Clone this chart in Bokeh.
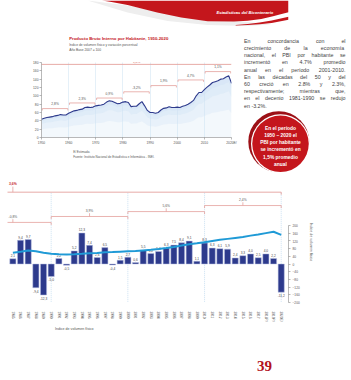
import math
from bokeh.plotting import figure
from bokeh.models import (ColumnDataSource, LinearAxis, Range1d, FixedTicker,
                          Legend, LegendItem)
from bokeh.layouts import column, row
from bokeh.embed import file_html
from bokeh.resources import INLINE
from bokeh.core.properties import value

# ------------------------------------------------------------------ data
top_years = list(range(1950, 2021))
top_index = [44, 46, 48, 49, 50, 52, 53, 55, 54, 54,
             58, 61, 64, 65, 67, 68, 72, 73, 72, 73,
             76, 77, 78, 80, 85, 88, 87, 84, 81, 82,
             85, 86, 84, 74, 75, 75, 81, 86, 76, 65,
             60, 60, 58, 60, 66, 70, 71, 74, 72, 72,
             73, 72, 75, 77, 80, 84, 89, 100, 108, 108,
             115, 121, 126, 132, 134, 136, 140, 141, 145, 148,
             130]
top_ticks = [1950, 1960, 1970, 1980, 1990, 2000, 2010, 2020]
top_tick_labels = ["1950", "1960", "1970", "1980", "1990", "2000", "2010", "2020E/"]
top_yticks = [0, 20, 40, 60, 80, 100, 120, 140, 160, 180]
top_period_start = [1950, 1960, 1970, 1980, 1990, 2000, 2010]
top_period_end = [1960, 1970, 1980, 1990, 2000, 2010, 2020]
top_period_rate = ["2,8%", "2,3%", "0,9%", "-3,2%", "1,9%", "4,7%", "1,1%"]
top_total_rate = "1,5%"

bot_years = list(range(1985, 2021))
bot_year_labels = [str(y) for y in range(1985, 2018)] + ["2018P/", "2019P/", "2020E/"]
bot_growth = [2.1, 9.4, 9.7, -9.4, -12.3, -5.0, 2.2, -0.5, 5.2, 12.3,
              7.4, 2.6, 6.5, -0.4, 1.5, 2.7, 0.6, 5.5, 4.2, 5.0,
              6.3, 7.5, 8.4, 9.1, 1.1, 8.3, 6.3, 6.1, 5.9, 2.4,
              3.3, 4.0, 2.5, 4.0, 2.2, -11.2]
bot_index = [59, 64, 70, 66, 59, 54, 51, 50, 51, 53,
             56, 58, 61, 62, 64, 66, 68, 71, 74, 78,
             83, 89, 96, 103, 108, 114, 120, 126, 131, 136,
             141, 148, 154, 161, 168, 152]
bot_period_start = [1980, 1990, 2000, 2010]
bot_period_end = [1990, 2000, 2010, 2020]
bot_period_rate = ["-0,8%", "3,9%", "5,6%", "2,4%"]
bot_total_rate = "3,6%"
idx_ticks = [-200, -160, -120, -80, -40, 0, 40, 80, 120, 160, 200]

# ------------------------------------------------------------------ style
SANS = "Liberation Sans"
RED = "#c4161c"
DARKRED = "#9c1016"
NAVY = "#2d3a8c"
CYAN = "#1f9ad6"
GRAY = "#555555"
LGRAY = "#8a8a8a"
BRACKET = "#e4a19d"
GRID = "#a9cde9"

COMMON = dict(output_backend="svg", toolbar_location=None, title=None)


def blank(fig):
    fig.outline_line_color = None
    fig.grid.visible = False
    fig.background_fill_color = "white"
    fig.border_fill_color = "white"


def pixel_fig(w, h, x0, y0):
    f = figure(width=w, height=h, x_range=Range1d(x0, x0 + w), y_range=Range1d(y0 + h, y0),
               x_axis_location=None, y_axis_location=None, min_border=0, **COMMON)
    blank(f)
    return f


# ------------------------------------------------------------------ header
ph = pixel_fig(351, 28, 0, 0)
ph.patch([100, 160, 220, 280, 330, 300, 250, 200, 150, 100],
         [0, 6, 14, 20, 24, 25.5, 24.5, 20.5, 12, 0],
         fill_color="#eeeeee", line_color=None)
ph.patch([118, 351, 351, 340, 333, 317, 300, 283, 250, 217, 187, 150, 130, 118],
         [0, 0, 11.7, 14, 15.5, 18.5, 20.3, 21, 20.7, 17, 12, 4.5, 1.5, 0],
         fill_color=RED, line_color=None)
ph.patch([285, 300, 315, 330, 351, 351, 330, 315, 300, 285],
         [24.6, 23.6, 22.1, 20.1, 16.3, 19.3, 22.4, 23.7, 24.5, 24.9],
         fill_color=RED, line_color=None)
ph.text(x=[261], y=[11.5], text=["Estadísticas del Bicentenario"],
        text_font=value(SANS), text_font_size="4.1px", text_font_style="bold italic",
        text_color="white", text_baseline="middle", text_align="left")

# ------------------------------------------------------------------ top chart titles
pt_head = pixel_fig(240, 30, 0, 28)
pt_head.text(x=[35], y=[38], text=["Producto Bruto Interno por Habitante, 1950-2020"],
             text_font=value(SANS), text_font_size="4.3px", text_font_style="bold",
             text_color=RED, text_baseline="middle", text_align="left")
pt_head.text(x=[35, 35], y=[44, 49.3],
             text=["Índice de volumen físico y variación porcentual", "Año Base 2007 = 100"],
             text_font=value(SANS), text_font_size="3.3px", text_color=GRAY,
             text_baseline="middle", text_align="left")

# ------------------------------------------------------------------ top chart
pt = figure(width=240, height=89, x_range=Range1d(1950, 2020), y_range=Range1d(0, 180),
            min_border_left=41, min_border_right=9, min_border_top=4, min_border_bottom=9,
            **COMMON)
blank(pt)
pt.xgrid.visible = True
pt.xgrid.ticker = FixedTicker(ticks=[1960, 1970, 1980, 1990, 2000, 2010, 2020])
pt.xgrid.grid_line_color = GRID
pt.xgrid.grid_line_dash = "1 1"
pt.xgrid.grid_line_width = 0.6

for frac, alpha in [(0.0, 0.25), (0.45, 0.3), (0.75, 0.35), (0.9, 0.4)]:
    pt.varea(x=top_years, y1=[v * frac for v in top_index], y2=top_index,
             fill_color="#cfe2f4", fill_alpha=alpha)
pt.line(top_years, top_index, line_color=NAVY, line_width=1.1)

top_levels = [69.4, 82.9, 94.7, 109.7, 124.6, 138.1, 158.2]
top_total_level = 175.5
bx0 = [s + 0.3 for s in top_period_start]
bx1 = [e - 0.3 for e in top_period_end]
pt.segment(x0=bx0, y0=top_levels, x1=bx1, y1=top_levels, line_color=BRACKET, line_width=0.8)
pt.segment(x0=bx0, y0=top_levels, x1=bx0, y1=[l - 4.5 for l in top_levels],
           line_color=BRACKET, line_width=0.8)
pt.segment(x0=bx1, y0=top_levels, x1=bx1, y1=[l - 4.5 for l in top_levels],
           line_color=BRACKET, line_width=0.8)
pt.text(x=[(s + e) / 2 for s, e in zip(top_period_start, top_period_end)],
        y=[l + 10.5 for l in top_levels], text=top_period_rate,
        text_font=value(SANS), text_font_size="3.3px", text_color=GRAY,
        text_align="center", text_baseline="middle")
pt.segment(x0=[1950], y0=[top_total_level], x1=[2020], y1=[top_total_level],
           line_color=BRACKET, line_width=0.9)
pt.text(x=[(1950 + 2020) / 2], y=[top_total_level + 0.8], text=[top_total_rate],
        text_font=value(SANS), text_font_size="3.4px", text_font_style="bold",
        text_color=RED, text_align="center", text_baseline="bottom")

pt.xaxis.ticker = FixedTicker(ticks=top_ticks)
pt.xaxis.major_label_overrides = {t: l for t, l in zip(top_ticks, top_tick_labels)}
pt.yaxis.ticker = FixedTicker(ticks=top_yticks)
for ax in (pt.xaxis, pt.yaxis):
    ax.axis_line_color = LGRAY
    ax.axis_line_width = 0.6
    ax.major_tick_line_color = LGRAY
    ax.major_tick_line_width = 0.6
    ax.major_tick_out = 2
    ax.major_tick_in = 0
    ax.minor_tick_line_color = None
    ax.major_label_text_font = SANS
    ax.major_label_text_font_size = "3.3px"
    ax.major_label_text_color = GRAY
    ax.major_label_standoff = 1

# ------------------------------------------------------------------ top chart notes
pt_foot = pixel_fig(240, 31, 0, 147)
pt_foot.text(x=[40, 40], y=[151.5, 156.2],
             text=["E/ Estimado.",
                   "Fuente: Instituto Nacional de Estadística e Informática - INEI."],
             text_font=value(SANS), text_font_size="3px", text_color=GRAY,
             text_baseline="middle", text_align="left")

left_col = column(pt_head, pt, pt_foot)

# ------------------------------------------------------------------ side text
ps = pixel_fig(111, 150, 240, 28)

para = ["En concordancia con el",
        "crecimiento de la economía",
        "nacional, el PBI por habitante se",
        "incrementó en 4.7% promedio",
        "anual en el período 2001-2010.",
        "En las décadas del 50 y del",
        "60 creció en 2.8% y 2.3%,",
        "respectivamente; mientras que,",
        "en el decenio 1981-1990 se redujo",
        "en -3.2%."]
PFS = 5.3

ARIAL = {}
for ch in "ijl": ARIAL[ch] = 0.22
for ch in "ft": ARIAL[ch] = 0.28
ARIAL["r"] = 0.33
for ch in ".,;:": ARIAL[ch] = 0.28
ARIAL["-"] = 0.33
ARIAL["m"] = 0.83
ARIAL["w"] = 0.72
ARIAL["%"] = 0.89
for ch in "cksvxyz": ARIAL[ch] = 0.5
for ch in "0123456789abdeghnopqu": ARIAL[ch] = 0.556
ARIAL["I"] = 0.28


def est_width(word, fs):
    w = 0.0
    for ch in word:
        if ch in ARIAL:
            w += ARIAL[ch]
        elif ch.isupper():
            w += 0.68
        else:
            w += 0.54
    return w * fs


wx, wy, wt = [], [], []
X0, X1 = 243.5, 345
for i, line in enumerate(para):
    y = 40.2 + 7.2 * i
    words = line.split(" ")
    widths = [est_width(w, PFS) for w in words]
    if i < len(para) - 1 and len(words) > 1:
        gap = (X1 - X0 - sum(widths)) / (len(words) - 1)
    else:
        gap = PFS * 0.28
    x = X0
    for w, wd in zip(words, widths):
        wx.append(x); wy.append(y); wt.append(w)
        x += wd + gap
ps.text(x=wx, y=wy, text=wt, text_font=value(SANS), text_font_size=f"{PFS}px",
        text_color="#3f3f3f", text_baseline="middle", text_align="left")

ps.ellipse(x=[278.3], y=[141.2], width=[61], height=[61], fill_color=DARKRED, line_color=None)
ps.ellipse(x=[280], y=[143.3], width=[59], height=[59], fill_color="white", line_color=None)
ps.ellipse(x=[280], y=[143.3], width=[56.5], height=[56.5], fill_color=RED, line_color=None)
circle_lines = ["En el período", "1950 – 2020 el", "PBI por habitante",
                "se incrementó en", "1,5% promedio", "anual"]
ps.text(x=[280] * 6, y=[127.8, 135.0, 142.2, 149.4, 156.6, 163.8], text=circle_lines,
        text_font=value(SANS), text_font_size="4.9px", text_font_style="bold",
        text_color="white", text_align="center", text_baseline="middle")

# ------------------------------------------------------------------ bottom chart
PCT_TOP, PCT_BOT = (263.5 - 179) / 2.52, (263.5 - 304) / 2.52
IDX_TOP, IDX_BOT = (263.5 - 179) / 0.19175, (263.5 - 304) / 0.19175
pb = figure(width=351, height=148, x_range=Range1d(1984.3, 2020.95),
            y_range=Range1d(PCT_BOT, PCT_TOP), y_axis_location=None,
            min_border_left=7, min_border_right=63, min_border_top=1, min_border_bottom=22,
            **COMMON)
blank(pb)
pb.extra_y_ranges = {"idx": Range1d(IDX_BOT, IDX_TOP)}

bot_levels = [16.5, 18.85, 20.8, 23.2]
bot_total_level = 28.5
pb.segment(x0=bot_period_end, y0=[-15] * 4, x1=bot_period_end, y1=[bot_total_level] * 4,
           line_color=GRID, line_dash="1 1", line_width=0.6)

src = ColumnDataSource(dict(x=bot_years, top=bot_growth))
pb.vbar(x="x", top="top", bottom=0, width=0.8, source=src,
        fill_color=NAVY, line_color="#b9c0e2", line_width=0.5)

pos = [(x, v) for x, v in zip(bot_years, bot_growth) if v >= 0]
neg = [(x, v) for x, v in zip(bot_years, bot_growth) if v < 0]
fmt = lambda v: f"{v:.1f}".replace(".", ",")
pb.text(x=[p[0] for p in pos], y=[p[1] + 0.7 for p in pos], text=[fmt(p[1]) for p in pos],
        text_font=value(SANS), text_font_size="3.2px", text_color="#444444",
        text_align="center", text_baseline="bottom")
pb.text(x=[p[0] for p in neg], y=[p[1] - 0.7 for p in neg], text=[fmt(p[1]) for p in neg],
        text_font=value(SANS), text_font_size="3.2px", text_color="#444444",
        text_align="center", text_baseline="top")

pb.line(bot_years, bot_index, y_range_name="idx", line_color=CYAN, line_width=2)

pb.segment(x0=bot_period_start, y0=bot_levels, x1=bot_period_end, y1=bot_levels,
           line_color=BRACKET, line_width=0.8)
pb.segment(x0=bot_period_start, y0=bot_levels, x1=bot_period_start,
           y1=[l - 1.0 for l in bot_levels], line_color=BRACKET, line_width=0.8)
pb.segment(x0=bot_period_end, y0=bot_levels, x1=bot_period_end,
           y1=[l - 1.0 for l in bot_levels], line_color=BRACKET, line_width=0.8)
mids = [(s + e) / 2 for s, e in zip(bot_period_start, bot_period_end)]
pb.segment(x0=mids, y0=bot_levels, x1=mids, y1=[l + 1.3 for l in bot_levels],
           line_color=BRACKET, line_width=0.8)
pb.text(x=mids, y=[l + 1.6 for l in bot_levels], text=bot_period_rate,
        text_font=value(SANS), text_font_size="3.3px", text_color=GRAY,
        text_align="center", text_baseline="bottom")
pb.segment(x0=[1950], y0=[bot_total_level], x1=[2020], y1=[bot_total_level],
           line_color=BRACKET, line_width=0.9)
pb.segment(x0=[2020], y0=[bot_total_level], x1=[2020], y1=[bot_total_level - 1.0],
           line_color=BRACKET, line_width=0.9)
pb.segment(x0=[1985], y0=[bot_total_level], x1=[1985], y1=[bot_total_level + 2.2],
           line_color=BRACKET, line_width=0.8)
pb.text(x=[1985], y=[bot_total_level + 2.6], text=[bot_total_rate],
        text_font=value(SANS), text_font_size="3.4px", text_font_style="bold",
        text_color=RED, text_align="center", text_baseline="bottom")

pb.xaxis.ticker = FixedTicker(ticks=bot_years)
pb.xaxis.major_label_overrides = {y: l for y, l in zip(bot_years, bot_year_labels)}
pb.xaxis.major_label_orientation = "vertical"
pb.xaxis.axis_line_color = None
pb.xaxis.major_tick_line_color = None
pb.xaxis.minor_tick_line_color = None
pb.xaxis.major_tick_out = 0
pb.xaxis.major_label_standoff = 7
pb.xaxis.major_label_text_font = SANS
pb.xaxis.major_label_text_font_size = "3.2px"
pb.xaxis.major_label_text_color = GRAY

ra = LinearAxis(y_range_name="idx", ticker=FixedTicker(ticks=idx_ticks), bounds=(-200, 200),
                axis_label="Índice de volumen físico")
ra.axis_line_color = LGRAY
ra.axis_line_width = 0.6
ra.major_tick_line_color = LGRAY
ra.major_tick_line_width = 0.6
ra.major_tick_out = 2
ra.major_tick_in = 0
ra.minor_tick_line_color = None
ra.major_label_standoff = 2
ra.major_label_text_font = SANS
ra.major_label_text_font_size = "3.2px"
ra.major_label_text_color = GRAY
ra.axis_label_text_font = SANS
ra.axis_label_text_font_size = "3.6px"
ra.axis_label_text_font_style = "normal"
ra.axis_label_text_color = GRAY
ra.axis_label_standoff = 6
pb.add_layout(ra, "right")

# ------------------------------------------------------------------ footer
pf = pixel_fig(351, 54, 0, 326)
leg_r = pf.line(x=[], y=[], line_color=CYAN, line_width=2)
legend = Legend(items=[LegendItem(label="Índice de volumen físico", renderers=[leg_r])],
                location=(33, 49), orientation="horizontal",
                label_text_font=SANS, label_text_font_size="3.6px", label_text_color=GRAY,
                glyph_width=12, glyph_height=4, label_height=4, label_standoff=3,
                padding=0, margin=0, spacing=0, border_line_color=None,
                background_fill_alpha=0)
pf.add_layout(legend)
pf.text(x=[321], y=[365], text=["39"], text_font=value("Liberation Serif"),
        text_font_size="15px", text_font_style="bold", text_color="#b3121b",
        text_align="center", text_baseline="middle")

layout = column(ph, row(left_col, ps), pb, pf)
open("out.html", "w").write(file_html(layout, INLINE))
